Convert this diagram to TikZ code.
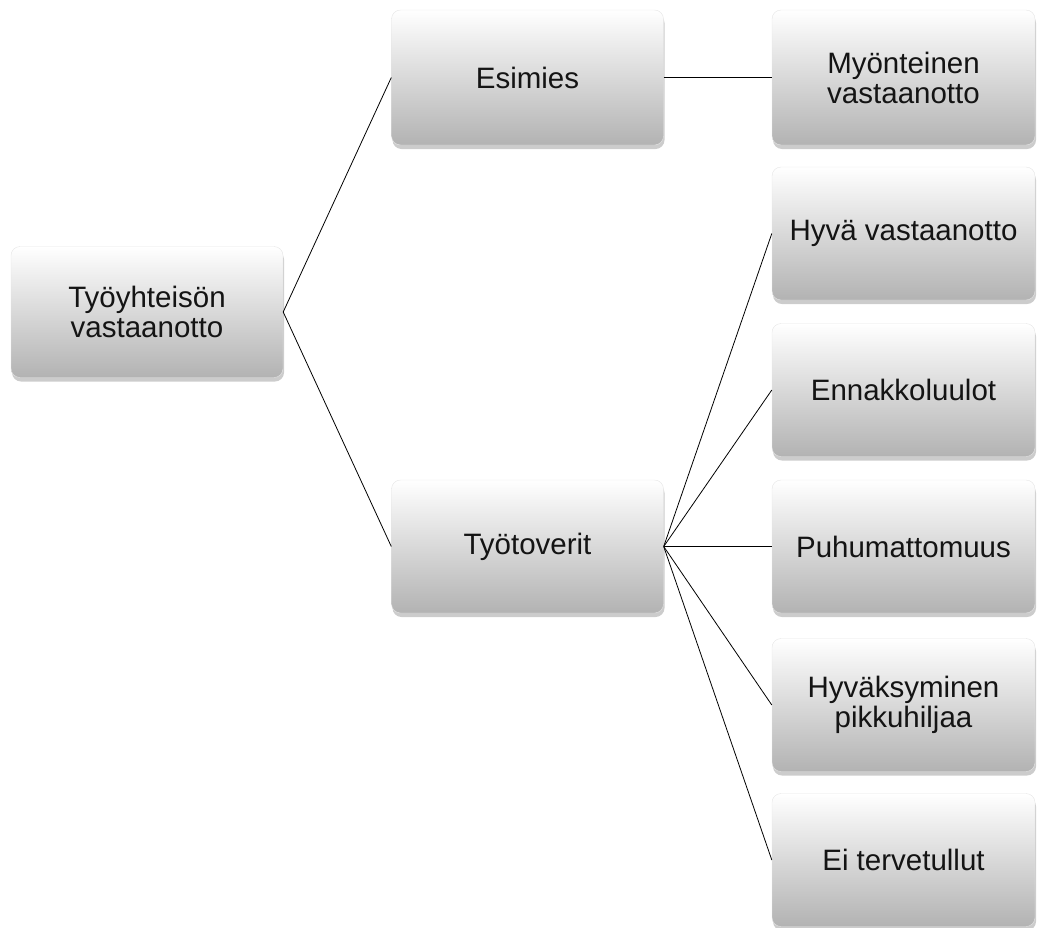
\documentclass[tikz,border=0pt]{standalone}
\usepackage{fontspec}
\setmainfont{Liberation Sans}
\usetikzlibrary{shadows}

\tikzset{
  box/.style={rectangle,rounded corners=9pt,align=center,
    minimum width=272pt,minimum height=133pt,inner sep=0pt,
    top color=white,bottom color=black!30,draw=black!10,line width=0.4pt,
    text=black!92,font=\fontsize{29.5}{30}\selectfont,
    general shadow={fill=black!20,shadow yshift=-4pt,shadow xshift=1pt}},
  leaf/.style={box,minimum width=263pt},
  link/.style={draw=black,line width=0.8pt}
}

\begin{document}
\begin{tikzpicture}[x=1pt,y=-1pt]
\useasboundingbox (0,0) rectangle (1038,927);

% first and second level
\node[box,minimum height=131pt] (root) at (147,312) {Työyhteisön\\vastaanotto};
\node[box,minimum height=135pt] (esimies) at (527.5,77.5) {Esimies};
\node[box] (toverit) at (527.5,546.5) {Työtoverit};

\draw[link] (root.east) -- (esimies.west);
\draw[link] (root.east) -- (toverit.west);

% boss side
\node[leaf,minimum height=135pt] (myont) at (903.5,77.5) {Myönteinen\\vastaanotto};
\draw[link] (esimies.east) -- (myont.west);

% co-worker side
\foreach \name/\y/\txt in {hyva/233.5/{Hyvä vastaanotto},
                           ennakko/390/{Ennakkoluulot},
                           puhu/546.5/{Puhumattomuus},
                           hyvaks/705/{Hyväksyminen\\pikkuhiljaa},
                           eiterv/860/{Ei tervetullut}}
  {
  \node[leaf] (\name) at (903.5,\y) {\txt};
  \draw[link] (toverit.east) -- (\name.west);
  }
\end{tikzpicture}
\end{document}
